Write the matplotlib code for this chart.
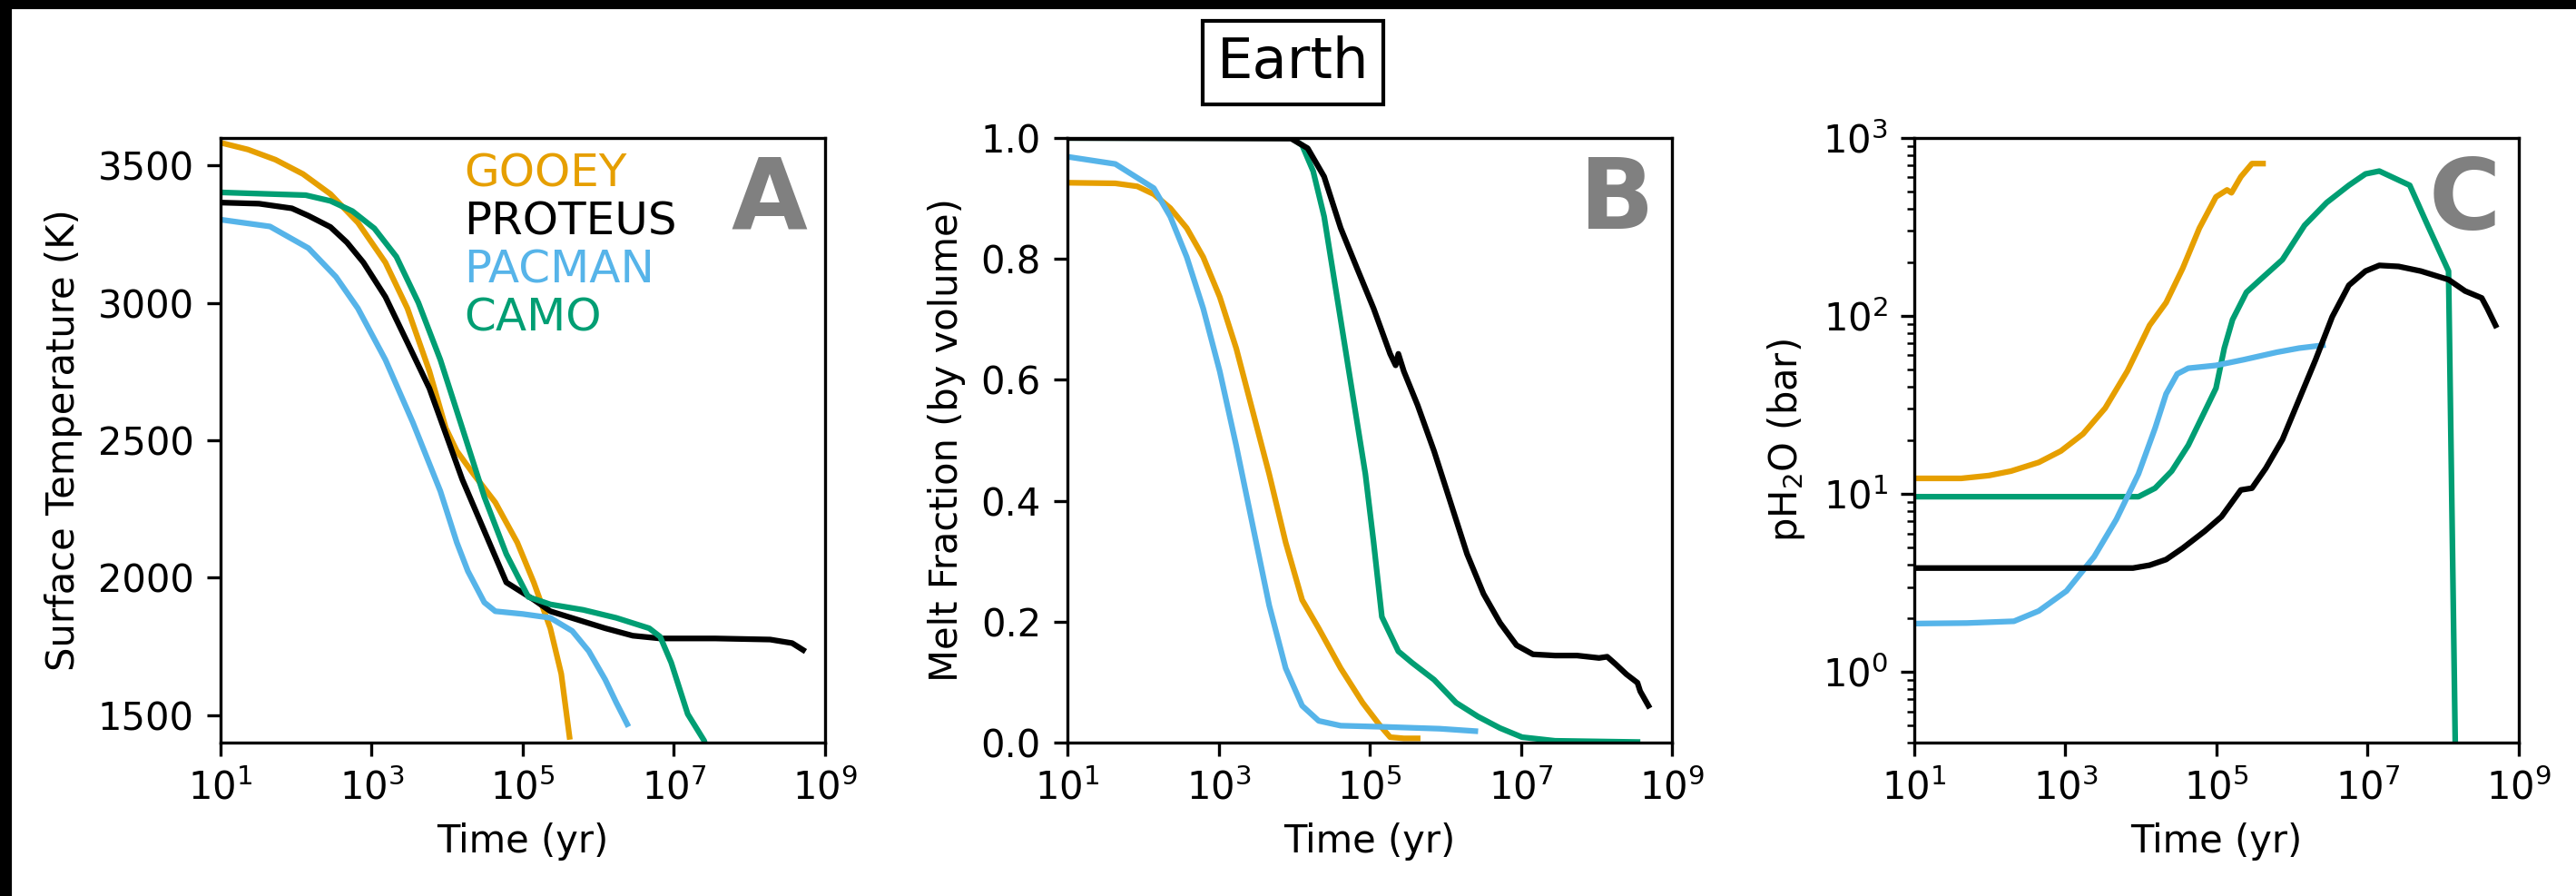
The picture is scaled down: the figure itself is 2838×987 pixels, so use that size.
import numpy as np
import matplotlib
matplotlib.use("Agg")
import matplotlib.pyplot as plt
from matplotlib.patches import Rectangle
from matplotlib.ticker import NullLocator

# model names and colours
models = ["GOOEY", "PROTEUS", "PACMAN", "CAMO"]
colors = {"GOOEY": "#E69F00", "PROTEUS": "#000000", "PACMAN": "#56B4E9", "CAMO": "#009E73"}

# --- panel A: surface temperature (K), time as log10(yr) ---
tsurf_logt = {
    "GOOEY": [1.0, 1.364, 1.727, 2.091, 2.455, 2.818, 3.182, 3.473, 3.764, 3.982, 4.127, 4.345,
              4.636, 4.927, 5.145, 5.364, 5.509, 5.618],
    "PROTEUS": [1.0, 1.509, 1.945, 2.164, 2.455, 2.673, 2.891, 3.182, 3.473, 3.764, 3.982, 4.2,
                4.491, 4.782, 5.145, 5.364, 5.727, 6.091, 6.455, 6.818, 7.545, 8.273, 8.564, 8.709],
    "PACMAN": [1.0, 1.655, 2.164, 2.527, 2.818, 3.182, 3.545, 3.909, 4.127, 4.273, 4.491, 4.636,
               5.0, 5.364, 5.655, 5.873, 6.091, 6.236, 6.382],
    "CAMO": [1.0, 2.127, 2.455, 2.745, 3.036, 3.327, 3.618, 3.909, 4.2, 4.491, 4.782, 5.073,
             5.364, 5.8, 6.236, 6.673, 6.818, 6.964, 7.182, 7.4, 7.45],
}
tsurf = {
    "GOOEY": [3583, 3558, 3521, 3469, 3396, 3292, 3147, 2980, 2752, 2544, 2461, 2378,
              2274, 2128, 1983, 1816, 1650, 1421],
    "PROTEUS": [3365, 3361, 3344, 3317, 3276, 3220, 3147, 3022, 2856, 2689, 2523, 2357,
                2170, 1983, 1920, 1878, 1847, 1816, 1789, 1779, 1779, 1775, 1762, 1737],
    "PACMAN": [3303, 3278, 3199, 3095, 2980, 2793, 2565, 2315, 2128, 2024, 1910, 1878,
               1868, 1854, 1806, 1733, 1629, 1546, 1467],
    "CAMO": [3402, 3392, 3371, 3334, 3271, 3168, 3001, 2793, 2544, 2294, 2086, 1930,
             1903, 1883, 1854, 1816, 1785, 1691, 1504, 1407, 1360],
}

# --- panel B: melt fraction ---
melt_logt = {
    "GOOEY": [1.0, 1.633, 1.924, 2.142, 2.36, 2.578, 2.796, 3.015, 3.233, 3.451, 3.669, 3.887,
              4.105, 4.324, 4.615, 4.905, 5.124, 5.269, 5.451, 5.633],
    "PACMAN": [1.0, 1.633, 2.142, 2.36, 2.578, 2.796, 3.015, 3.233, 3.451, 3.669, 3.887, 4.105,
               4.324, 4.615, 5.196, 5.924, 6.396],
    "CAMO": [1.0, 3.96, 4.105, 4.251, 4.396, 4.542, 4.687, 4.833, 4.942, 5.051, 5.16, 5.378,
             5.56, 5.851, 6.142, 6.433, 6.724, 7.015, 7.451, 8.542],
    "PROTEUS": [1.0, 3.96, 4.178, 4.396, 4.615, 4.833, 5.051, 5.269, 5.342, 5.378, 5.451, 5.633,
                5.851, 6.069, 6.287, 6.505, 6.724, 6.942, 7.16, 7.451, 7.742, 8.033, 8.142,
                8.251, 8.396, 8.542, 8.578, 8.687],
}
melt = {
    "GOOEY": [0.926, 0.925, 0.92, 0.907, 0.884, 0.851, 0.803, 0.737, 0.652, 0.548, 0.444, 0.331,
              0.236, 0.189, 0.123, 0.066, 0.030, 0.009, 0.007, 0.007],
    "PACMAN": [0.969, 0.957, 0.917, 0.870, 0.803, 0.718, 0.614, 0.491, 0.359, 0.227, 0.123, 0.061,
               0.036, 0.028, 0.026, 0.023, 0.019],
    "CAMO": [1.0, 1.0, 0.988, 0.945, 0.870, 0.756, 0.643, 0.529, 0.444, 0.331, 0.208, 0.151,
             0.132, 0.104, 0.066, 0.043, 0.024, 0.009, 0.003, 0.001],
    "PROTEUS": [1.0, 0.999, 0.983, 0.936, 0.851, 0.784, 0.718, 0.643, 0.624, 0.643, 0.614, 0.558,
                0.482, 0.397, 0.312, 0.246, 0.198, 0.161, 0.146, 0.144, 0.144, 0.140, 0.142,
                0.130, 0.113, 0.099, 0.085, 0.061],
}

# --- panel C: pH2O (bar), stored as log10 ---
ph2o_logt = {
    "GOOEY": [1.0, 1.623, 1.989, 2.282, 2.648, 2.941, 3.234, 3.527, 3.82, 4.114, 4.333, 4.553,
              4.773, 4.993, 5.139, 5.198, 5.322, 5.469, 5.615],
    "CAMO": [1.0, 3.967, 4.187, 4.407, 4.626, 4.846, 4.993, 5.103, 5.212, 5.396, 5.579, 5.872,
             6.165, 6.458, 6.751, 6.971, 7.154, 7.557, 7.777, 8.07, 8.179],
    "PACMAN": [1.0, 1.696, 2.319, 2.648, 3.015, 3.381, 3.674, 3.967, 4.187, 4.333, 4.48, 4.626,
               4.993, 5.359, 5.799, 6.092, 6.407],
    "PROTEUS": [1.0, 3.894, 4.114, 4.333, 4.553, 4.846, 5.066, 5.322, 5.469, 5.652, 5.872, 6.092,
                6.311, 6.531, 6.751, 6.971, 7.154, 7.41, 7.703, 8.07, 8.289, 8.509, 8.582, 8.692],
}
ph2o_log = {
    "GOOEY": [1.087, 1.087, 1.103, 1.128, 1.177, 1.241, 1.337, 1.482, 1.69, 1.947, 2.075, 2.268,
              2.493, 2.669, 2.708, 2.692, 2.782, 2.856, 2.856],
    "CAMO": [0.984, 0.984, 1.032, 1.128, 1.273, 1.465, 1.594, 1.819, 1.979, 2.133, 2.204, 2.316,
             2.509, 2.637, 2.734, 2.798, 2.814, 2.734, 2.525, 2.252, -1.0],
    "PACMAN": [0.271, 0.274, 0.284, 0.342, 0.454, 0.647, 0.856, 1.112, 1.369, 1.562, 1.674, 1.706,
               1.722, 1.754, 1.796, 1.819, 1.835],
    "PROTEUS": [0.583, 0.583, 0.599, 0.631, 0.695, 0.791, 0.872, 1.022, 1.032, 1.144, 1.305, 1.53,
                1.754, 1.995, 2.172, 2.252, 2.284, 2.278, 2.252, 2.204, 2.14, 2.101, 2.043, 1.947],
}

panel_letters = ["A", "B", "C"]
ylabels = ["Surface Temperature (K)", "Melt Fraction (by volume)", r"pH$_2$O (bar)"]

plt.rcParams["font.size"] = 10
fig = plt.figure(figsize=(9.46, 3.29), dpi=300)

lefts = [0.0856, 0.4144, 0.7431]
axes = [fig.add_axes([l, 0.1712, 0.2347, 0.6748]) for l in lefts]
axA, axB, axC = axes

for m in models:
    axA.plot(10 ** np.array(tsurf_logt[m]), tsurf[m], color=colors[m], lw=1.5, label=m)
for m in ["GOOEY", "PACMAN", "CAMO", "PROTEUS"]:
    axB.plot(10 ** np.array(melt_logt[m]), melt[m], color=colors[m], lw=1.5)
for m in ["GOOEY", "CAMO", "PACMAN", "PROTEUS"]:
    axC.plot(10 ** np.array(ph2o_logt[m]), 10 ** np.array(ph2o_log[m]), color=colors[m], lw=1.5)

axA.set_ylim(1400, 3600)
axA.set_yticks([1500, 2000, 2500, 3000, 3500])
axB.set_ylim(0, 1)
axC.set_yscale("log")
axC.set_ylim(0.4, 1000)

for ax, lab, letter in zip(axes, ylabels, panel_letters):
    ax.set_xscale("log")
    ax.set_xlim(10, 1e9)
    ax.set_xticks([1e1, 1e3, 1e5, 1e7, 1e9])
    ax.xaxis.set_minor_locator(NullLocator())
    ax.set_xlabel("Time (yr)")
    ax.set_ylabel(lab)
    ax.text(0.97, 0.975, letter, transform=ax.transAxes, ha="right", va="top",
            fontsize=26, fontweight="bold", color="grey")

# legend as coloured text only
leg = axA.legend(loc="upper left", bbox_to_anchor=(0.335, 1.045), frameon=False,
                 handlelength=0, handletextpad=0, fontsize=12, labelspacing=0.1,
                 labelcolor="linecolor")
for h in leg.legend_handles:
    h.set_visible(False)

fig.text(0.502, 0.93, "Earth", ha="center", va="center", fontsize=15,
         bbox=dict(boxstyle="square,pad=0.25", fc="white", ec="black", lw=1.0))

# dark strips along the top and left edge of the original image
fig.patches.append(Rectangle((0, 0), 11 / 2838, 1, transform=fig.transFigure,
                             color="black", zorder=10))
fig.patches.append(Rectangle((0, 1 - 8 / 987), 1, 8 / 987, transform=fig.transFigure,
                             color="black", zorder=10))

fig.savefig("out.png", dpi=300)
